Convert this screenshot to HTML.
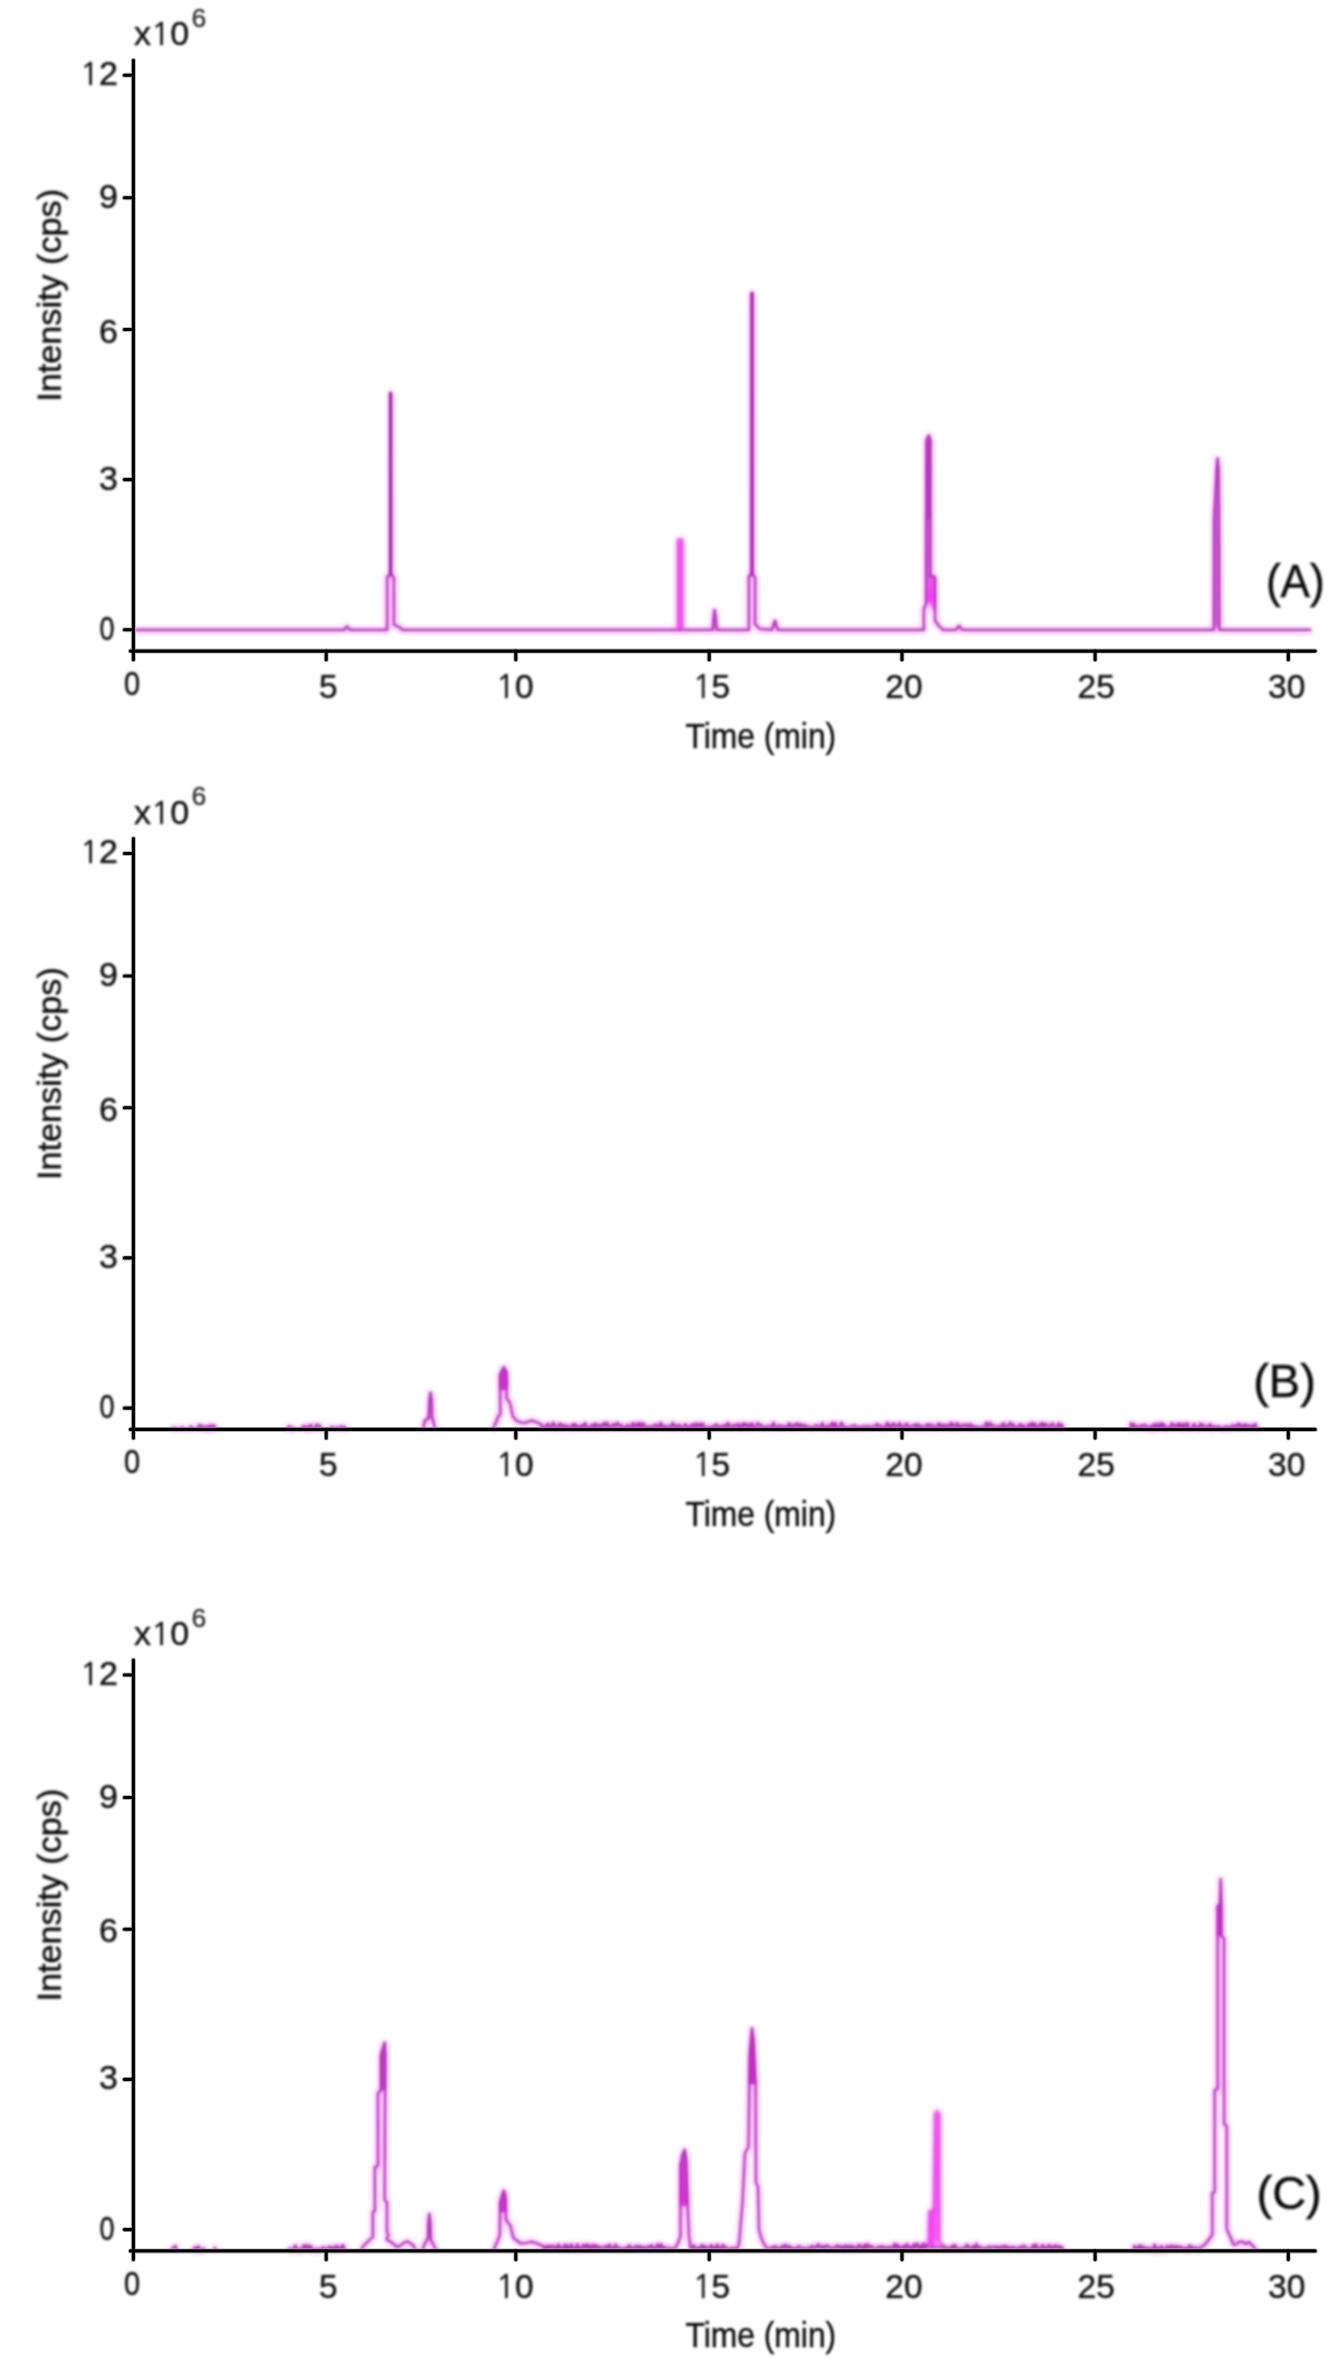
<!DOCTYPE html>
<html><head><meta charset="utf-8"><title>Chromatograms</title>
<style>html,body{margin:0;padding:0;background:#fff;} svg{display:block;}</style>
</head><body>
<svg width="1342" height="2363" viewBox="0 0 1342 2363"><defs><filter id="soft" x="-1%" y="-1%" width="102%" height="102%"><feGaussianBlur stdDeviation="0.55"/></filter><filter id="txt" filterUnits="userSpaceOnUse" x="0" y="0" width="1342" height="2363"><feGaussianBlur stdDeviation="0.8"/></filter><filter id="core" x="-2%" y="-2%" width="104%" height="104%"><feGaussianBlur stdDeviation="1.0"/></filter><filter id="halo" x="-5%" y="-5%" width="110%" height="110%"><feGaussianBlur stdDeviation="2.5"/></filter></defs><rect width="1342" height="2363" fill="#fff"/><g style="mix-blend-mode:multiply" filter="url(#halo)"><g fill="#ff48ff" stroke="none"><path d="M678.1,539.6 H682.2 V628.5 H678.1 Z"/><path d="M926.2,604 L926.6,440 L928.7,435.3 L930.4,440 L930.4,520 L926.4,520 Z"/><path d="M927.4,520 L929.4,520 L929.4,576.5 L927.4,598 Z"/><path d="M926.2,604 L930.4,576.5 L935.0,576.9 L935.0,616 L930,602 Z"/><path d="M1215.6,626 L1215.8,520 L1217.1,470 L1217.6,461 L1218.1,470 L1218.1,520 L1218.2,626 Z"/><path d="M500,1375 L503.8,1367 L506.5,1372 L506.9,1390 L500.2,1390 Z"/><path d="M500.2,2202.4 L503.8,2190.3 L505.5,2196 L506,2212 L500.2,2212 Z"/><path d="M935.3,2242 L935.3,2114 L937.2,2111 L939.2,2114 L939.2,2242 Z"/><path d="M929.5,2246 L929.5,2211 L934.5,2211 L934.5,2246 Z"/><path d="M680.5,2206 L680.5,2166 L682.5,2155 L684.7,2149.5 L686.2,2160 L687.7,2206 Z"/><path d="M381,2055 L384.7,2042.3 L385.3,2055 L385.2,2090 L381,2090 Z"/><path d="M752,2028 L753.5,2040 L755.6,2084 L749.6,2084 L749.7,2055 Z"/><path d="M1217.7,1906 L1220,1904 L1221.4,1904 L1221.6,1936 L1217.7,1936 Z"/></g><path d="M135.0,629.9 L344.0,629.9 L347.0,626.5 L350.0,629.9 L387.2,629.9 L387.2,577.0 L390.6,574.5 L390.6,392.5 L390.8,574.5 L393.9,577.0 L393.9,624.8 L399.8,627.3 L402.0,629.9 L712.8,629.9 L713.9,616.0 L714.6,609.5 L715.4,616.0 L716.6,629.9 L748.9,629.9 L748.9,576.0 L752.0,574.0 L752.0,292.5 L752.2,574.0 L755.1,577.3 L755.1,624.0 L759.6,629.0 L772.0,629.9 L775.0,620.5 L777.5,629.9 L923.9,629.9 L923.9,609.0 L926.2,604.0 L926.6,440.0 L928.7,435.3 L930.4,440.0 L930.4,576.5 L935.0,576.9 L935.0,620.5 L939.2,626.3 L943.0,629.9 L956.0,629.9 L959.2,625.8 L962.0,629.9 L1214.0,629.9 L1214.3,520.0 L1216.8,468.0 L1217.6,458.0 L1218.6,470.0 L1218.9,520.0 L1219.2,629.9 L1311.4,629.9" fill="none" stroke="#ff48ff" stroke-width="3" stroke-linejoin="round"/><path d="M136.0,1429.4 M172.0,1429.4 M172.0,1429.4 L173.3,1428.0 L174.9,1429.4 L176.1,1428.0 L177.6,1429.4 M178.8,1429.4 M180.7,1429.4 L182.1,1427.0 L183.7,1429.4 M185.8,1429.4 M187.7,1429.4 M189.0,1429.4 L190.4,1426.6 L192.1,1427.6 L193.7,1429.4 M194.9,1429.4 M196.7,1429.4 L198.1,1427.5 L199.5,1424.8 L200.9,1427.5 L202.8,1426.2 L204.9,1429.4 L206.4,1426.7 L208.0,1429.4 L209.8,1425.3 L211.7,1429.4 L213.5,1425.2 L215.1,1427.0 L216.0,1429.4 M288.0,1429.4 L288.0,1427.0 L289.8,1426.7 L291.7,1429.4 L293.2,1428.0 L294.8,1429.4 M296.0,1429.4 M297.8,1429.4 M299.2,1429.4 M301.2,1429.4 L302.7,1426.8 L304.6,1426.1 L306.1,1429.4 L308.1,1426.6 L309.4,1429.4 L310.7,1424.8 L312.1,1429.4 M313.6,1429.4 L315.3,1427.1 L316.9,1424.5 L318.1,1427.0 L320.0,1425.6 L321.5,1429.4 M323.3,1429.4 M324.5,1429.4 M325.7,1429.4 M326.9,1429.4 M328.2,1429.4 M329.6,1429.4 L331.6,1426.6 L333.0,1429.4 M334.4,1429.4 L336.4,1427.4 L338.0,1429.4 M339.2,1429.4 L340.5,1426.5 L341.7,1427.3 L342.9,1427.1 L344.6,1426.9 L346.0,1429.4 M423.0,1429.4 L423.5,1428.4 L424.5,1421.0 L428.8,1418.0 L429.5,1400.0 L430.5,1392.3 L431.5,1400.0 L432.0,1418.0 L433.4,1421.0 L434.5,1427.4 L436.0,1429.4 M493.0,1429.4 L493.9,1427.7 L498.4,1416.1 L500.4,1414.8 L500.0,1375.0 L503.8,1367.0 L506.5,1372.0 L506.9,1380.4 L506.5,1398.2 L510.0,1402.7 L512.7,1416.1 L516.3,1420.6 L521.0,1422.5 L525.2,1422.8 L528.5,1421.5 L531.9,1420.6 L536.0,1422.0 L540.9,1424.2 L541.0,1425.5 L542.3,1427.2 L544.1,1426.1 L546.0,1426.7 L547.9,1423.7 L549.3,1427.5 L550.4,1425.9 L551.8,1426.5 L553.3,1422.5 L555.4,1427.7 L556.7,1426.2 L558.4,1426.7 L560.0,1423.4 L561.2,1426.6 L563.1,1424.9 L564.4,1427.5 L566.3,1425.3 L567.8,1426.9 L569.1,1426.5 L571.0,1427.8 L573.0,1424.1 L574.4,1427.9 L575.6,1424.1 L577.2,1427.4 L579.1,1426.2 L580.5,1427.7 L582.2,1425.2 L583.4,1427.5 L585.0,1422.9 L586.5,1427.3 L588.1,1427.1 L589.7,1428.1 L591.6,1425.0 L593.4,1427.5 L595.0,1423.5 L596.2,1427.7 L597.6,1424.8 L599.3,1426.6 L600.8,1424.8 L602.4,1427.3 L604.1,1422.8 L605.9,1426.5 L607.2,1422.7 L609.1,1427.9 L610.7,1426.1 L611.9,1426.8 L613.9,1423.8 L615.6,1426.6 L617.7,1422.7 L619.2,1426.4 L621.1,1425.2 L622.7,1427.8 L624.1,1427.1 L625.8,1428.1 L627.2,1424.8 L628.4,1426.8 L630.5,1425.9 L631.6,1427.6 L632.9,1422.9 L634.8,1427.8 L636.8,1423.9 L638.0,1426.9 L639.5,1422.8 L641.2,1427.9 L643.2,1423.1 L644.7,1427.2 L646.7,1426.6 L648.4,1427.9 L649.6,1426.2 L651.1,1426.8 L652.5,1426.4 L653.9,1427.7 L655.0,1424.6 L656.3,1426.5 L657.6,1425.2 L659.2,1427.4 L660.8,1422.6 L662.2,1426.9 L663.9,1425.6 L665.1,1428.0 L666.9,1426.4 L668.1,1426.6 L669.9,1426.1 L671.3,1427.8 L672.9,1422.7 L674.9,1427.7 L677.0,1425.5 L678.1,1427.3 L679.7,1424.8 L680.8,1427.9 L682.3,1427.1 L683.7,1427.1 L685.4,1424.1 L687.2,1427.4 L688.6,1426.5 L690.4,1428.0 L692.3,1424.2 L694.2,1427.8 L695.8,1423.3 L697.7,1427.1 L699.6,1423.9 L701.0,1427.9 L702.5,1423.3 L704.1,1427.0 L705.9,1427.2 L707.8,1427.2 L709.4,1426.9 L711.2,1428.0 L712.6,1426.2 L714.4,1427.3 L715.9,1424.0 L717.8,1427.0 L719.0,1426.0 L720.8,1427.1 L721.9,1425.9 L723.7,1427.0 L725.1,1425.0 L726.7,1426.6 L728.0,1422.8 L729.1,1426.7 L731.2,1425.9 L732.5,1427.7 L734.2,1424.7 L736.2,1426.7 L737.8,1423.9 L739.2,1427.3 L740.3,1424.9 L741.9,1427.8 L743.3,1423.2 L744.4,1426.7 L745.7,1423.8 L747.6,1427.5 L749.1,1424.4 L750.6,1427.6 L751.8,1423.3 L753.2,1427.7 L754.5,1426.3 L756.0,1426.6 L757.9,1422.9 L759.9,1426.9 L761.1,1425.1 L763.0,1427.6 L764.1,1426.6 L765.7,1427.6 L767.5,1426.0 L769.3,1427.2 L770.8,1426.4 L772.1,1427.3 L773.4,1422.5 L775.0,1427.8 L776.2,1426.8 L777.5,1427.1 L779.5,1425.2 L781.0,1427.5 L782.5,1425.9 L784.5,1427.2 L786.2,1426.2 L787.6,1427.4 L789.2,1423.2 L791.1,1428.0 L792.9,1425.0 L794.6,1427.4 L796.6,1423.2 L798.7,1427.9 L799.9,1424.0 L802.0,1427.0 L803.8,1424.6 L805.0,1427.7 L807.0,1425.8 L808.2,1427.0 L810.0,1426.9 L811.6,1427.4 L813.0,1427.2 L814.4,1426.5 L816.1,1425.0 L817.5,1426.5 L819.3,1427.1 L820.9,1427.4 L822.2,1422.8 L823.6,1427.5 L825.1,1426.3 L827.0,1427.2 L828.3,1425.7 L830.2,1427.7 L832.0,1422.7 L833.6,1427.7 L835.2,1422.7 L836.4,1427.7 L838.5,1427.0 L839.7,1426.6 L841.6,1422.5 L843.6,1427.8 L845.7,1427.0 L847.4,1427.5 L848.9,1427.2 L850.2,1426.5 L851.5,1426.2 L852.9,1426.7 L854.5,1425.0 L856.0,1427.8 L857.4,1427.1 L858.9,1426.8 L860.1,1426.9 L862.1,1426.8 L864.1,1425.9 L866.1,1427.6 L867.9,1425.9 L869.1,1426.6 L870.8,1427.1 L872.1,1426.5 L874.2,1426.0 L875.7,1426.5 L877.0,1423.7 L878.9,1427.1 L880.3,1425.5 L882.2,1427.8 L884.1,1426.9 L885.2,1427.5 L887.3,1422.5 L888.6,1427.9 L890.2,1425.1 L891.6,1427.1 L893.4,1423.2 L895.1,1426.7 L896.5,1425.4 L898.3,1427.7 L899.7,1423.0 L901.4,1427.4 L903.4,1426.1 L905.3,1426.4 L906.6,1423.3 L908.5,1428.0 L909.9,1426.3 L911.9,1426.5 L913.4,1425.1 L914.8,1426.5 L916.0,1424.3 L917.3,1427.8 L918.7,1424.4 L920.4,1428.1 L921.8,1426.3 L923.3,1426.8 L924.9,1426.7 L926.4,1427.0 L927.6,1423.9 L929.1,1427.6 L931.2,1424.5 L932.6,1426.7 L934.7,1426.3 L936.5,1428.1 L938.5,1423.3 L940.0,1427.3 L941.3,1424.6 L943.0,1427.9 L944.7,1424.8 L946.0,1427.2 L948.0,1424.9 L949.9,1427.8 L951.1,1422.6 L952.7,1426.5 L954.2,1424.3 L956.1,1426.8 L957.5,1423.2 L959.4,1427.7 L960.9,1425.4 L962.1,1426.9 L964.1,1424.5 L965.9,1426.7 L967.2,1424.6 L968.9,1427.4 L970.6,1424.1 L972.1,1428.0 L973.8,1426.1 L975.7,1427.3 L977.0,1426.7 L978.2,1427.9 L979.8,1427.0 L981.5,1426.9 L983.4,1426.9 L985.0,1426.5 L986.2,1422.5 L988.1,1427.8 L990.1,1422.7 L992.1,1426.8 L994.1,1425.5 L996.0,1426.6 L997.4,1426.5 L999.0,1427.7 L1000.3,1425.7 L1001.5,1427.8 L1003.5,1423.0 L1004.8,1427.9 L1006.4,1425.5 L1008.4,1427.1 L1010.3,1422.5 L1012.1,1426.8 L1013.4,1424.5 L1014.9,1427.3 L1016.2,1427.0 L1018.1,1427.0 L1020.2,1424.1 L1021.6,1428.0 L1022.9,1425.2 L1024.5,1427.9 L1025.8,1427.1 L1026.9,1427.9 L1028.4,1424.4 L1030.1,1427.0 L1031.7,1422.8 L1033.0,1427.9 L1034.7,1423.5 L1036.2,1428.1 L1038.0,1425.5 L1039.7,1426.5 L1041.5,1422.9 L1042.7,1427.4 L1044.1,1423.5 L1045.2,1426.5 L1046.4,1424.3 L1048.1,1426.7 L1049.3,1425.8 L1050.5,1426.8 L1052.3,1423.2 L1054.1,1426.9 L1055.7,1426.7 L1057.0,1427.5 L1058.9,1423.2 L1060.7,1427.2 L1062.2,1424.7 L1063.0,1429.4 M1131.0,1429.4 L1131.0,1423.0 L1132.3,1428.1 L1133.7,1424.0 L1135.7,1427.6 L1137.7,1426.2 L1139.7,1427.0 L1141.4,1425.2 L1143.4,1426.8 L1144.9,1424.7 L1146.3,1427.1 L1147.5,1426.6 L1148.7,1429.4 L1150.7,1426.6 L1151.8,1429.4 L1153.6,1424.2 L1155.4,1429.4 L1157.1,1423.7 L1159.0,1428.0 L1161.0,1423.1 L1162.2,1427.9 L1163.4,1423.7 L1165.1,1427.1 L1166.5,1429.4 L1167.7,1427.8 L1169.1,1427.1 L1170.5,1427.0 L1172.0,1423.0 L1173.6,1427.1 L1174.7,1425.3 L1176.6,1427.0 L1178.2,1423.5 L1179.4,1427.8 L1180.5,1423.9 L1182.6,1429.4 L1184.2,1423.8 L1185.5,1427.6 L1187.4,1423.1 L1188.8,1427.0 L1190.4,1429.4 M1192.1,1429.4 L1194.0,1423.8 L1195.7,1427.5 L1197.2,1426.8 L1199.2,1429.4 L1200.5,1423.3 L1202.1,1426.7 L1203.5,1424.9 L1205.3,1427.1 L1206.8,1426.5 L1208.7,1427.0 L1210.0,1423.9 L1211.6,1429.4 L1213.2,1426.2 L1214.5,1427.0 L1216.4,1426.5 L1217.8,1427.3 L1219.1,1426.4 L1221.1,1427.9 L1223.2,1429.4 L1224.7,1426.9 L1226.5,1426.4 L1228.2,1429.4 L1229.5,1427.1 L1231.0,1427.0 L1232.6,1425.2 L1233.9,1427.5 L1235.7,1425.3 L1237.4,1427.4 L1238.7,1423.4 L1240.6,1426.8 L1242.4,1425.2 L1243.8,1427.9 L1245.3,1424.1 L1247.0,1427.4 L1248.6,1425.4 L1250.4,1427.8 L1252.1,1425.5 L1253.7,1428.0 L1255.4,1423.8 L1257.0,1429.4 M1312.0,1429.4" fill="none" stroke="#ff48ff" stroke-width="3" stroke-linejoin="round"/><path d="M136.0,2250.9 M172.0,2250.9 L172.0,2248.4 L173.7,2248.7 L175.3,2245.9 L176.9,2250.9 M178.9,2250.9 M180.7,2250.9 M182.6,2250.9 M184.6,2250.9 M185.8,2250.9 M187.3,2250.9 M188.8,2250.9 M190.6,2250.9 M192.0,2250.9 L193.8,2249.0 L195.2,2247.4 L196.5,2250.9 L198.3,2246.6 L199.9,2249.3 L202.0,2250.9 L203.7,2248.6 L205.3,2250.9 M206.9,2250.9 M208.8,2250.9 M210.8,2250.9 M212.2,2250.9 M213.8,2250.9 L214.9,2247.8 L216.0,2250.9 M288.0,2250.9 M288.0,2250.9 L289.6,2248.7 L291.3,2250.9 L293.3,2249.5 L295.3,2245.5 L296.5,2248.7 L297.6,2250.9 L299.7,2249.2 L300.9,2250.9 L302.2,2249.1 L303.5,2245.5 L304.8,2248.7 L306.7,2245.1 L308.5,2249.3 L310.3,2245.7 L311.9,2248.8 L313.2,2250.9 L314.5,2249.5 L316.1,2250.9 L317.7,2248.8 L319.6,2250.9 L321.5,2248.8 L323.3,2247.2 L324.8,2249.5 L326.5,2248.6 L328.2,2248.3 L329.7,2246.6 L331.3,2249.5 L333.1,2247.3 L335.0,2250.9 L336.6,2245.6 L337.9,2249.0 L339.6,2247.5 L341.5,2248.9 L342.9,2244.8 L344.6,2249.1 L346.0,2250.9 M361.0,2250.9 L363.2,2246.0 L372.9,2237.0 L372.9,2212.0 L374.9,2211.0 L374.9,2167.0 L378.0,2166.0 L378.0,2093.0 L381.0,2090.0 L381.0,2055.0 L384.7,2042.3 L385.3,2055.0 L384.6,2200.0 L387.0,2202.0 L387.0,2232.0 L388.5,2235.0 L386.5,2239.4 L392.8,2243.3 L397.0,2247.0 L400.0,2246.0 L403.4,2243.0 L407.0,2241.5 L410.0,2243.0 L413.0,2245.0 L416.0,2250.9 M422.0,2250.9 L423.6,2247.0 L425.5,2242.0 L428.2,2238.0 L428.5,2222.0 L429.3,2213.6 L430.3,2222.0 L430.8,2240.0 L432.5,2243.0 L434.5,2247.0 L437.0,2250.9 M493.0,2250.9 L493.9,2249.5 L499.8,2235.4 L500.2,2202.4 L503.8,2190.3 L505.5,2196.0 L506.0,2220.0 L510.0,2224.7 L513.6,2238.1 L520.8,2243.5 L526.0,2243.0 L531.9,2241.7 L537.0,2243.5 L543.0,2246.0 L543.0,2245.9 L544.7,2249.5 L546.5,2246.1 L547.7,2249.6 L549.0,2245.8 L550.8,2248.1 L552.5,2245.7 L554.3,2248.5 L555.6,2246.5 L557.4,2249.3 L558.6,2244.4 L560.3,2248.2 L562.2,2247.5 L563.6,2249.1 L565.2,2244.3 L566.3,2249.5 L567.6,2246.0 L569.6,2249.6 L571.1,2244.3 L573.1,2248.9 L574.3,2247.7 L575.6,2249.6 L577.4,2244.1 L578.6,2249.4 L579.7,2247.6 L581.5,2249.5 L583.4,2244.7 L585.2,2248.5 L587.0,2244.3 L588.4,2248.4 L589.5,2245.6 L591.4,2249.1 L593.3,2244.6 L594.8,2249.0 L596.5,2245.5 L597.8,2249.0 L599.5,2246.7 L601.0,2248.0 L602.9,2247.3 L604.1,2248.4 L606.0,2245.8 L608.0,2248.6 L609.4,2244.5 L610.9,2248.6 L612.9,2247.4 L614.0,2248.9 L615.7,2244.5 L616.9,2248.2 L618.8,2247.4 L620.8,2248.4 L622.8,2248.3 L624.4,2249.2 L626.2,2247.6 L627.9,2248.8 L629.3,2245.2 L631.1,2249.4 L633.0,2247.6 L634.7,2248.1 L636.3,2245.9 L637.6,2249.3 L639.4,2246.0 L640.9,2249.3 L642.1,2246.9 L643.3,2248.3 L644.6,2247.1 L646.2,2249.5 L648.3,2246.4 L649.9,2248.3 L651.5,2245.1 L653.4,2249.2 L654.5,2247.8 L655.7,2248.7 L657.7,2244.2 L659.7,2248.6 L661.2,2244.2 L662.6,2248.5 L664.6,2246.8 L666.1,2248.0 L668.2,2248.5 L669.6,2248.1 L671.6,2248.5 L673.4,2248.5 L675.8,2247.5 L678.5,2242.0 L680.5,2236.0 L680.5,2166.0 L682.5,2155.0 L684.7,2149.5 L686.2,2160.0 L687.7,2206.0 L689.0,2236.0 L690.5,2247.0 L690.5,2248.1 L692.3,2248.6 L693.8,2245.4 L695.0,2249.2 L696.2,2248.0 L697.6,2248.6 L698.7,2247.9 L699.8,2249.2 L701.9,2244.9 L703.1,2249.4 L705.1,2246.0 L706.7,2248.3 L708.3,2248.1 L709.6,2248.5 L711.2,2244.9 L712.6,2249.3 L714.0,2247.3 L715.3,2249.1 L717.3,2244.5 L718.4,2248.6 L719.8,2247.5 L721.1,2249.0 L723.2,2244.7 L724.4,2248.2 L725.6,2247.4 L727.7,2248.4 L729.1,2248.7 L731.0,2249.3 L732.6,2247.8 L734.2,2249.3 L736.1,2247.9 L737.3,2248.7 L739.0,2244.0 L742.5,2203.0 L745.0,2153.0 L748.5,2147.0 L749.7,2055.0 L752.0,2028.0 L753.5,2040.0 L755.6,2084.0 L756.0,2183.0 L758.0,2186.0 L759.0,2230.0 L762.0,2240.0 L766.0,2247.5 L766.0,2247.6 L767.7,2248.0 L769.4,2248.3 L771.2,2248.2 L772.4,2246.9 L774.3,2248.6 L775.4,2246.1 L777.4,2249.2 L779.3,2247.8 L780.8,2249.6 L782.4,2245.9 L783.7,2248.0 L785.6,2244.9 L787.1,2249.5 L789.0,2246.0 L790.7,2248.6 L791.8,2247.5 L793.1,2249.1 L795.0,2248.2 L796.8,2249.5 L798.5,2245.9 L800.3,2247.9 L802.1,2248.0 L803.7,2249.1 L804.9,2248.0 L806.6,2249.3 L808.3,2247.8 L810.2,2248.8 L811.7,2245.9 L813.2,2248.1 L814.7,2246.9 L816.2,2248.1 L818.2,2244.1 L819.4,2247.8 L821.4,2246.4 L823.1,2248.6 L824.3,2246.0 L825.4,2247.7 L827.3,2245.3 L829.2,2247.9 L830.4,2247.3 L832.1,2248.6 L834.1,2247.3 L835.8,2247.8 L837.1,2245.2 L838.4,2247.8 L840.0,2246.2 L841.6,2249.3 L842.9,2246.5 L844.3,2249.4 L845.9,2245.4 L847.6,2249.2 L849.4,2245.7 L851.1,2249.0 L852.4,2245.9 L853.9,2249.6 L855.4,2247.4 L857.0,2249.0 L859.1,2244.5 L860.4,2247.9 L861.9,2246.6 L863.5,2249.4 L864.8,2244.7 L866.1,2248.9 L867.8,2244.1 L869.8,2248.2 L871.6,2246.1 L873.5,2247.9 L874.7,2248.7 L876.6,2248.6 L878.6,2246.4 L880.5,2248.4 L882.0,2246.2 L883.8,2248.8 L885.4,2247.0 L887.3,2248.6 L888.8,2247.1 L890.1,2248.5 L891.3,2247.0 L893.2,2247.8 L894.6,2243.8 L895.7,2248.5 L897.3,2244.5 L898.9,2248.6 L900.5,2246.6 L902.0,2248.9 L904.0,2245.9 L905.2,2248.8 L906.9,2243.9 L909.0,2248.7 L910.7,2246.8 L912.3,2249.3 L913.7,2244.2 L915.3,2247.9 L917.1,2243.4 L919.1,2249.3 L920.5,2246.0 L921.8,2248.4 L923.5,2243.3 L925.2,2248.8 L927.1,2245.0 L928.7,2247.0 L942.5,2247.0 L942.5,2244.4 L944.2,2249.2 L945.8,2247.3 L947.5,2247.8 L949.2,2248.1 L950.5,2249.4 L951.7,2246.0 L953.6,2248.1 L954.8,2244.7 L956.2,2248.9 L957.5,2248.2 L959.5,2249.0 L961.0,2248.4 L963.0,2247.9 L964.5,2247.4 L965.7,2248.0 L967.1,2244.5 L968.5,2247.9 L970.1,2247.5 L971.6,2249.2 L973.0,2246.2 L974.9,2249.3 L976.4,2243.7 L977.8,2249.4 L979.4,2246.6 L980.6,2248.1 L982.1,2247.7 L983.5,2249.5 L985.2,2247.9 L987.0,2249.1 L988.9,2246.4 L990.8,2249.3 L992.3,2246.8 L994.3,2247.9 L996.0,2246.4 L997.2,2249.1 L999.2,2246.8 L1000.5,2249.2 L1002.5,2246.1 L1004.1,2248.2 L1005.6,2245.8 L1007.0,2249.4 L1008.3,2247.1 L1010.1,2248.6 L1011.6,2247.2 L1012.7,2249.2 L1014.0,2247.3 L1015.5,2248.2 L1017.5,2248.0 L1018.8,2248.4 L1020.6,2246.6 L1022.4,2249.1 L1024.3,2245.5 L1025.6,2247.9 L1027.4,2248.5 L1028.6,2249.2 L1030.0,2248.5 L1031.4,2249.3 L1033.3,2245.0 L1034.7,2248.4 L1036.1,2244.4 L1038.0,2249.5 L1039.9,2248.5 L1041.3,2248.2 L1042.6,2244.9 L1043.8,2248.9 L1045.7,2247.3 L1046.9,2248.8 L1048.9,2244.9 L1050.8,2248.8 L1052.0,2246.5 L1053.6,2249.4 L1055.4,2245.1 L1057.3,2248.6 L1059.4,2245.9 L1060.7,2248.9 L1062.3,2247.1 L1063.0,2250.9 M1134.0,2250.9 L1134.0,2245.8 L1135.3,2248.8 L1136.9,2247.2 L1138.3,2249.4 L1140.0,2245.2 L1141.6,2249.3 L1143.4,2246.7 L1145.2,2249.4 L1146.6,2247.8 L1147.8,2249.3 L1149.6,2248.2 L1151.0,2249.0 L1152.3,2250.9 L1153.4,2248.4 L1154.6,2244.5 L1156.3,2250.9 L1157.9,2247.9 L1159.5,2250.9 L1161.5,2246.0 L1163.6,2249.2 L1164.9,2250.9 L1166.1,2248.3 L1167.5,2245.9 L1169.4,2249.3 L1171.3,2245.5 L1172.7,2248.3 L1174.1,2246.3 L1175.6,2249.2 L1176.8,2246.0 L1178.7,2248.2 L1180.7,2246.5 L1182.0,2248.7 L1183.2,2248.0 L1184.7,2249.4 L1185.9,2247.9 L1187.7,2250.9 L1189.6,2245.3 L1191.1,2248.6 L1192.7,2247.2 L1194.3,2248.3 L1196.3,2247.4 L1197.8,2249.1 L1199.1,2250.9 L1200.5,2247.5 L1204.6,2245.0 L1212.3,2235.0 L1212.3,2193.0 L1214.7,2192.0 L1214.7,2090.0 L1217.7,2089.0 L1217.7,1906.0 L1220.0,1904.0 L1220.7,1879.0 L1221.4,1904.0 L1221.6,1936.0 L1224.1,1938.0 L1224.1,2124.0 L1226.8,2126.0 L1226.8,2229.0 L1230.4,2237.0 L1233.6,2245.0 L1236.6,2244.0 L1239.0,2242.0 L1242.0,2241.5 L1246.0,2244.0 L1249.0,2242.0 L1252.0,2245.0 L1254.5,2248.0 L1257.0,2250.9 M1312.0,2250.9" fill="none" stroke="#ff48ff" stroke-width="3" stroke-linejoin="round"/><path d="M676.5,629.9 L678.1,628.0 L678.1,539.6 L682.2,539.6 L682.2,628.0 L683.8,629.9" fill="none" stroke="#ff48ff" stroke-width="3" stroke-linejoin="round"/><path d="M928.7,2247.0 L929.5,2211.0 L934.0,2211.0 L935.3,2114.0 L937.2,2111.0 L939.2,2114.0 L939.2,2242.0 L942.5,2247.0" fill="none" stroke="#ff48ff" stroke-width="3" stroke-linejoin="round"/><g stroke="#ff48ff" stroke-width="3.4" fill="none"><path d="M390.6,574 V393.5"/><path d="M752,574 V293.5"/></g></g><g style="mix-blend-mode:multiply" filter="url(#core)"><g stroke="none"><path d="M678.1,539.6 H682.2 V628.5 H678.1 Z" fill="#f5e6f5"/><path d="M926.2,604 L926.6,440 L928.7,435.3 L930.4,440 L930.4,520 L926.4,520 Z" fill="#b4adb9"/><path d="M926.4,520 L930.4,520 L930.4,576.5 L926.2,604 Z" fill="#d7f5dc"/><path d="M926.2,604 L930.4,576.5 L935.0,576.9 L935.0,616 L930,602 Z" fill="#f5c8f5"/><path d="M1214.0,628 L1214.3,520 L1216.8,468 L1217.6,458 L1218.6,470 L1218.9,520 L1219.2,628 Z" fill="#d2f0d6"/><path d="M500,1375 L503.8,1367 L506.5,1372 L506.9,1390 L500.2,1390 Z" fill="#d28cd2"/><path d="M500.2,2202.4 L503.8,2190.3 L505.5,2196 L506,2212 L500.2,2212 Z" fill="#d28cd2"/><path d="M935.3,2242 L935.3,2114 L937.2,2111 L939.2,2114 L939.2,2242 Z" fill="#f5e6f5"/><path d="M929.5,2246 L929.5,2211 L934.5,2211 L934.5,2246 Z" fill="#f5c3f5"/><path d="M680.5,2206 L680.5,2166 L682.5,2155 L684.7,2149.5 L686.2,2160 L687.7,2206 Z" fill="#dc97dc"/><path d="M381,2055 L384.7,2042.3 L385.3,2055 L385.2,2090 L381,2090 Z" fill="#c3a2c3"/><path d="M752,2028 L753.5,2040 L755.6,2084 L749.6,2084 L749.7,2055 Z" fill="#c882c8"/><path d="M1217.7,1906 L1220,1904 L1221.4,1904 L1221.6,1936 L1217.7,1936 Z" fill="#e157d7"/></g><path d="M135.0,629.9 L344.0,629.9 L347.0,626.5 L350.0,629.9 L387.2,629.9 L387.2,577.0 L390.6,574.5 L390.6,392.5 L390.8,574.5 L393.9,577.0 L393.9,624.8 L399.8,627.3 L402.0,629.9 L712.8,629.9 L713.9,616.0 L714.6,609.5 L715.4,616.0 L716.6,629.9 L748.9,629.9 L748.9,576.0 L752.0,574.0 L752.0,292.5 L752.2,574.0 L755.1,577.3 L755.1,624.0 L759.6,629.0 L772.0,629.9 L775.0,620.5 L777.5,629.9 L923.9,629.9 L923.9,609.0 L926.2,604.0 L926.6,440.0 L928.7,435.3 L930.4,440.0 L930.4,576.5 L935.0,576.9 L935.0,620.5 L939.2,626.3 L943.0,629.9 L956.0,629.9 L959.2,625.8 L962.0,629.9 L1214.0,629.9 L1214.3,520.0 L1216.8,468.0 L1217.6,458.0 L1218.6,470.0 L1218.9,520.0 L1219.2,629.9 L1311.4,629.9" fill="none" stroke="#a984ae" stroke-width="2.2" stroke-linejoin="round"/><path d="M136.0,1429.4 M172.0,1429.4 M172.0,1429.4 L173.3,1428.0 L174.9,1429.4 L176.1,1428.0 L177.6,1429.4 M178.8,1429.4 M180.7,1429.4 L182.1,1427.0 L183.7,1429.4 M185.8,1429.4 M187.7,1429.4 M189.0,1429.4 L190.4,1426.6 L192.1,1427.6 L193.7,1429.4 M194.9,1429.4 M196.7,1429.4 L198.1,1427.5 L199.5,1424.8 L200.9,1427.5 L202.8,1426.2 L204.9,1429.4 L206.4,1426.7 L208.0,1429.4 L209.8,1425.3 L211.7,1429.4 L213.5,1425.2 L215.1,1427.0 L216.0,1429.4 M288.0,1429.4 L288.0,1427.0 L289.8,1426.7 L291.7,1429.4 L293.2,1428.0 L294.8,1429.4 M296.0,1429.4 M297.8,1429.4 M299.2,1429.4 M301.2,1429.4 L302.7,1426.8 L304.6,1426.1 L306.1,1429.4 L308.1,1426.6 L309.4,1429.4 L310.7,1424.8 L312.1,1429.4 M313.6,1429.4 L315.3,1427.1 L316.9,1424.5 L318.1,1427.0 L320.0,1425.6 L321.5,1429.4 M323.3,1429.4 M324.5,1429.4 M325.7,1429.4 M326.9,1429.4 M328.2,1429.4 M329.6,1429.4 L331.6,1426.6 L333.0,1429.4 M334.4,1429.4 L336.4,1427.4 L338.0,1429.4 M339.2,1429.4 L340.5,1426.5 L341.7,1427.3 L342.9,1427.1 L344.6,1426.9 L346.0,1429.4 M423.0,1429.4 L423.5,1428.4 L424.5,1421.0 L428.8,1418.0 L429.5,1400.0 L430.5,1392.3 L431.5,1400.0 L432.0,1418.0 L433.4,1421.0 L434.5,1427.4 L436.0,1429.4 M493.0,1429.4 L493.9,1427.7 L498.4,1416.1 L500.4,1414.8 L500.0,1375.0 L503.8,1367.0 L506.5,1372.0 L506.9,1380.4 L506.5,1398.2 L510.0,1402.7 L512.7,1416.1 L516.3,1420.6 L521.0,1422.5 L525.2,1422.8 L528.5,1421.5 L531.9,1420.6 L536.0,1422.0 L540.9,1424.2 L541.0,1425.5 L542.3,1427.2 L544.1,1426.1 L546.0,1426.7 L547.9,1423.7 L549.3,1427.5 L550.4,1425.9 L551.8,1426.5 L553.3,1422.5 L555.4,1427.7 L556.7,1426.2 L558.4,1426.7 L560.0,1423.4 L561.2,1426.6 L563.1,1424.9 L564.4,1427.5 L566.3,1425.3 L567.8,1426.9 L569.1,1426.5 L571.0,1427.8 L573.0,1424.1 L574.4,1427.9 L575.6,1424.1 L577.2,1427.4 L579.1,1426.2 L580.5,1427.7 L582.2,1425.2 L583.4,1427.5 L585.0,1422.9 L586.5,1427.3 L588.1,1427.1 L589.7,1428.1 L591.6,1425.0 L593.4,1427.5 L595.0,1423.5 L596.2,1427.7 L597.6,1424.8 L599.3,1426.6 L600.8,1424.8 L602.4,1427.3 L604.1,1422.8 L605.9,1426.5 L607.2,1422.7 L609.1,1427.9 L610.7,1426.1 L611.9,1426.8 L613.9,1423.8 L615.6,1426.6 L617.7,1422.7 L619.2,1426.4 L621.1,1425.2 L622.7,1427.8 L624.1,1427.1 L625.8,1428.1 L627.2,1424.8 L628.4,1426.8 L630.5,1425.9 L631.6,1427.6 L632.9,1422.9 L634.8,1427.8 L636.8,1423.9 L638.0,1426.9 L639.5,1422.8 L641.2,1427.9 L643.2,1423.1 L644.7,1427.2 L646.7,1426.6 L648.4,1427.9 L649.6,1426.2 L651.1,1426.8 L652.5,1426.4 L653.9,1427.7 L655.0,1424.6 L656.3,1426.5 L657.6,1425.2 L659.2,1427.4 L660.8,1422.6 L662.2,1426.9 L663.9,1425.6 L665.1,1428.0 L666.9,1426.4 L668.1,1426.6 L669.9,1426.1 L671.3,1427.8 L672.9,1422.7 L674.9,1427.7 L677.0,1425.5 L678.1,1427.3 L679.7,1424.8 L680.8,1427.9 L682.3,1427.1 L683.7,1427.1 L685.4,1424.1 L687.2,1427.4 L688.6,1426.5 L690.4,1428.0 L692.3,1424.2 L694.2,1427.8 L695.8,1423.3 L697.7,1427.1 L699.6,1423.9 L701.0,1427.9 L702.5,1423.3 L704.1,1427.0 L705.9,1427.2 L707.8,1427.2 L709.4,1426.9 L711.2,1428.0 L712.6,1426.2 L714.4,1427.3 L715.9,1424.0 L717.8,1427.0 L719.0,1426.0 L720.8,1427.1 L721.9,1425.9 L723.7,1427.0 L725.1,1425.0 L726.7,1426.6 L728.0,1422.8 L729.1,1426.7 L731.2,1425.9 L732.5,1427.7 L734.2,1424.7 L736.2,1426.7 L737.8,1423.9 L739.2,1427.3 L740.3,1424.9 L741.9,1427.8 L743.3,1423.2 L744.4,1426.7 L745.7,1423.8 L747.6,1427.5 L749.1,1424.4 L750.6,1427.6 L751.8,1423.3 L753.2,1427.7 L754.5,1426.3 L756.0,1426.6 L757.9,1422.9 L759.9,1426.9 L761.1,1425.1 L763.0,1427.6 L764.1,1426.6 L765.7,1427.6 L767.5,1426.0 L769.3,1427.2 L770.8,1426.4 L772.1,1427.3 L773.4,1422.5 L775.0,1427.8 L776.2,1426.8 L777.5,1427.1 L779.5,1425.2 L781.0,1427.5 L782.5,1425.9 L784.5,1427.2 L786.2,1426.2 L787.6,1427.4 L789.2,1423.2 L791.1,1428.0 L792.9,1425.0 L794.6,1427.4 L796.6,1423.2 L798.7,1427.9 L799.9,1424.0 L802.0,1427.0 L803.8,1424.6 L805.0,1427.7 L807.0,1425.8 L808.2,1427.0 L810.0,1426.9 L811.6,1427.4 L813.0,1427.2 L814.4,1426.5 L816.1,1425.0 L817.5,1426.5 L819.3,1427.1 L820.9,1427.4 L822.2,1422.8 L823.6,1427.5 L825.1,1426.3 L827.0,1427.2 L828.3,1425.7 L830.2,1427.7 L832.0,1422.7 L833.6,1427.7 L835.2,1422.7 L836.4,1427.7 L838.5,1427.0 L839.7,1426.6 L841.6,1422.5 L843.6,1427.8 L845.7,1427.0 L847.4,1427.5 L848.9,1427.2 L850.2,1426.5 L851.5,1426.2 L852.9,1426.7 L854.5,1425.0 L856.0,1427.8 L857.4,1427.1 L858.9,1426.8 L860.1,1426.9 L862.1,1426.8 L864.1,1425.9 L866.1,1427.6 L867.9,1425.9 L869.1,1426.6 L870.8,1427.1 L872.1,1426.5 L874.2,1426.0 L875.7,1426.5 L877.0,1423.7 L878.9,1427.1 L880.3,1425.5 L882.2,1427.8 L884.1,1426.9 L885.2,1427.5 L887.3,1422.5 L888.6,1427.9 L890.2,1425.1 L891.6,1427.1 L893.4,1423.2 L895.1,1426.7 L896.5,1425.4 L898.3,1427.7 L899.7,1423.0 L901.4,1427.4 L903.4,1426.1 L905.3,1426.4 L906.6,1423.3 L908.5,1428.0 L909.9,1426.3 L911.9,1426.5 L913.4,1425.1 L914.8,1426.5 L916.0,1424.3 L917.3,1427.8 L918.7,1424.4 L920.4,1428.1 L921.8,1426.3 L923.3,1426.8 L924.9,1426.7 L926.4,1427.0 L927.6,1423.9 L929.1,1427.6 L931.2,1424.5 L932.6,1426.7 L934.7,1426.3 L936.5,1428.1 L938.5,1423.3 L940.0,1427.3 L941.3,1424.6 L943.0,1427.9 L944.7,1424.8 L946.0,1427.2 L948.0,1424.9 L949.9,1427.8 L951.1,1422.6 L952.7,1426.5 L954.2,1424.3 L956.1,1426.8 L957.5,1423.2 L959.4,1427.7 L960.9,1425.4 L962.1,1426.9 L964.1,1424.5 L965.9,1426.7 L967.2,1424.6 L968.9,1427.4 L970.6,1424.1 L972.1,1428.0 L973.8,1426.1 L975.7,1427.3 L977.0,1426.7 L978.2,1427.9 L979.8,1427.0 L981.5,1426.9 L983.4,1426.9 L985.0,1426.5 L986.2,1422.5 L988.1,1427.8 L990.1,1422.7 L992.1,1426.8 L994.1,1425.5 L996.0,1426.6 L997.4,1426.5 L999.0,1427.7 L1000.3,1425.7 L1001.5,1427.8 L1003.5,1423.0 L1004.8,1427.9 L1006.4,1425.5 L1008.4,1427.1 L1010.3,1422.5 L1012.1,1426.8 L1013.4,1424.5 L1014.9,1427.3 L1016.2,1427.0 L1018.1,1427.0 L1020.2,1424.1 L1021.6,1428.0 L1022.9,1425.2 L1024.5,1427.9 L1025.8,1427.1 L1026.9,1427.9 L1028.4,1424.4 L1030.1,1427.0 L1031.7,1422.8 L1033.0,1427.9 L1034.7,1423.5 L1036.2,1428.1 L1038.0,1425.5 L1039.7,1426.5 L1041.5,1422.9 L1042.7,1427.4 L1044.1,1423.5 L1045.2,1426.5 L1046.4,1424.3 L1048.1,1426.7 L1049.3,1425.8 L1050.5,1426.8 L1052.3,1423.2 L1054.1,1426.9 L1055.7,1426.7 L1057.0,1427.5 L1058.9,1423.2 L1060.7,1427.2 L1062.2,1424.7 L1063.0,1429.4 M1131.0,1429.4 L1131.0,1423.0 L1132.3,1428.1 L1133.7,1424.0 L1135.7,1427.6 L1137.7,1426.2 L1139.7,1427.0 L1141.4,1425.2 L1143.4,1426.8 L1144.9,1424.7 L1146.3,1427.1 L1147.5,1426.6 L1148.7,1429.4 L1150.7,1426.6 L1151.8,1429.4 L1153.6,1424.2 L1155.4,1429.4 L1157.1,1423.7 L1159.0,1428.0 L1161.0,1423.1 L1162.2,1427.9 L1163.4,1423.7 L1165.1,1427.1 L1166.5,1429.4 L1167.7,1427.8 L1169.1,1427.1 L1170.5,1427.0 L1172.0,1423.0 L1173.6,1427.1 L1174.7,1425.3 L1176.6,1427.0 L1178.2,1423.5 L1179.4,1427.8 L1180.5,1423.9 L1182.6,1429.4 L1184.2,1423.8 L1185.5,1427.6 L1187.4,1423.1 L1188.8,1427.0 L1190.4,1429.4 M1192.1,1429.4 L1194.0,1423.8 L1195.7,1427.5 L1197.2,1426.8 L1199.2,1429.4 L1200.5,1423.3 L1202.1,1426.7 L1203.5,1424.9 L1205.3,1427.1 L1206.8,1426.5 L1208.7,1427.0 L1210.0,1423.9 L1211.6,1429.4 L1213.2,1426.2 L1214.5,1427.0 L1216.4,1426.5 L1217.8,1427.3 L1219.1,1426.4 L1221.1,1427.9 L1223.2,1429.4 L1224.7,1426.9 L1226.5,1426.4 L1228.2,1429.4 L1229.5,1427.1 L1231.0,1427.0 L1232.6,1425.2 L1233.9,1427.5 L1235.7,1425.3 L1237.4,1427.4 L1238.7,1423.4 L1240.6,1426.8 L1242.4,1425.2 L1243.8,1427.9 L1245.3,1424.1 L1247.0,1427.4 L1248.6,1425.4 L1250.4,1427.8 L1252.1,1425.5 L1253.7,1428.0 L1255.4,1423.8 L1257.0,1429.4 M1312.0,1429.4" fill="none" stroke="#a984ae" stroke-width="2.2" stroke-linejoin="round"/><path d="M136.0,2250.9 M172.0,2250.9 L172.0,2248.4 L173.7,2248.7 L175.3,2245.9 L176.9,2250.9 M178.9,2250.9 M180.7,2250.9 M182.6,2250.9 M184.6,2250.9 M185.8,2250.9 M187.3,2250.9 M188.8,2250.9 M190.6,2250.9 M192.0,2250.9 L193.8,2249.0 L195.2,2247.4 L196.5,2250.9 L198.3,2246.6 L199.9,2249.3 L202.0,2250.9 L203.7,2248.6 L205.3,2250.9 M206.9,2250.9 M208.8,2250.9 M210.8,2250.9 M212.2,2250.9 M213.8,2250.9 L214.9,2247.8 L216.0,2250.9 M288.0,2250.9 M288.0,2250.9 L289.6,2248.7 L291.3,2250.9 L293.3,2249.5 L295.3,2245.5 L296.5,2248.7 L297.6,2250.9 L299.7,2249.2 L300.9,2250.9 L302.2,2249.1 L303.5,2245.5 L304.8,2248.7 L306.7,2245.1 L308.5,2249.3 L310.3,2245.7 L311.9,2248.8 L313.2,2250.9 L314.5,2249.5 L316.1,2250.9 L317.7,2248.8 L319.6,2250.9 L321.5,2248.8 L323.3,2247.2 L324.8,2249.5 L326.5,2248.6 L328.2,2248.3 L329.7,2246.6 L331.3,2249.5 L333.1,2247.3 L335.0,2250.9 L336.6,2245.6 L337.9,2249.0 L339.6,2247.5 L341.5,2248.9 L342.9,2244.8 L344.6,2249.1 L346.0,2250.9 M361.0,2250.9 L363.2,2246.0 L372.9,2237.0 L372.9,2212.0 L374.9,2211.0 L374.9,2167.0 L378.0,2166.0 L378.0,2093.0 L381.0,2090.0 L381.0,2055.0 L384.7,2042.3 L385.3,2055.0 L384.6,2200.0 L387.0,2202.0 L387.0,2232.0 L388.5,2235.0 L386.5,2239.4 L392.8,2243.3 L397.0,2247.0 L400.0,2246.0 L403.4,2243.0 L407.0,2241.5 L410.0,2243.0 L413.0,2245.0 L416.0,2250.9 M422.0,2250.9 L423.6,2247.0 L425.5,2242.0 L428.2,2238.0 L428.5,2222.0 L429.3,2213.6 L430.3,2222.0 L430.8,2240.0 L432.5,2243.0 L434.5,2247.0 L437.0,2250.9 M493.0,2250.9 L493.9,2249.5 L499.8,2235.4 L500.2,2202.4 L503.8,2190.3 L505.5,2196.0 L506.0,2220.0 L510.0,2224.7 L513.6,2238.1 L520.8,2243.5 L526.0,2243.0 L531.9,2241.7 L537.0,2243.5 L543.0,2246.0 L543.0,2245.9 L544.7,2249.5 L546.5,2246.1 L547.7,2249.6 L549.0,2245.8 L550.8,2248.1 L552.5,2245.7 L554.3,2248.5 L555.6,2246.5 L557.4,2249.3 L558.6,2244.4 L560.3,2248.2 L562.2,2247.5 L563.6,2249.1 L565.2,2244.3 L566.3,2249.5 L567.6,2246.0 L569.6,2249.6 L571.1,2244.3 L573.1,2248.9 L574.3,2247.7 L575.6,2249.6 L577.4,2244.1 L578.6,2249.4 L579.7,2247.6 L581.5,2249.5 L583.4,2244.7 L585.2,2248.5 L587.0,2244.3 L588.4,2248.4 L589.5,2245.6 L591.4,2249.1 L593.3,2244.6 L594.8,2249.0 L596.5,2245.5 L597.8,2249.0 L599.5,2246.7 L601.0,2248.0 L602.9,2247.3 L604.1,2248.4 L606.0,2245.8 L608.0,2248.6 L609.4,2244.5 L610.9,2248.6 L612.9,2247.4 L614.0,2248.9 L615.7,2244.5 L616.9,2248.2 L618.8,2247.4 L620.8,2248.4 L622.8,2248.3 L624.4,2249.2 L626.2,2247.6 L627.9,2248.8 L629.3,2245.2 L631.1,2249.4 L633.0,2247.6 L634.7,2248.1 L636.3,2245.9 L637.6,2249.3 L639.4,2246.0 L640.9,2249.3 L642.1,2246.9 L643.3,2248.3 L644.6,2247.1 L646.2,2249.5 L648.3,2246.4 L649.9,2248.3 L651.5,2245.1 L653.4,2249.2 L654.5,2247.8 L655.7,2248.7 L657.7,2244.2 L659.7,2248.6 L661.2,2244.2 L662.6,2248.5 L664.6,2246.8 L666.1,2248.0 L668.2,2248.5 L669.6,2248.1 L671.6,2248.5 L673.4,2248.5 L675.8,2247.5 L678.5,2242.0 L680.5,2236.0 L680.5,2166.0 L682.5,2155.0 L684.7,2149.5 L686.2,2160.0 L687.7,2206.0 L689.0,2236.0 L690.5,2247.0 L690.5,2248.1 L692.3,2248.6 L693.8,2245.4 L695.0,2249.2 L696.2,2248.0 L697.6,2248.6 L698.7,2247.9 L699.8,2249.2 L701.9,2244.9 L703.1,2249.4 L705.1,2246.0 L706.7,2248.3 L708.3,2248.1 L709.6,2248.5 L711.2,2244.9 L712.6,2249.3 L714.0,2247.3 L715.3,2249.1 L717.3,2244.5 L718.4,2248.6 L719.8,2247.5 L721.1,2249.0 L723.2,2244.7 L724.4,2248.2 L725.6,2247.4 L727.7,2248.4 L729.1,2248.7 L731.0,2249.3 L732.6,2247.8 L734.2,2249.3 L736.1,2247.9 L737.3,2248.7 L739.0,2244.0 L742.5,2203.0 L745.0,2153.0 L748.5,2147.0 L749.7,2055.0 L752.0,2028.0 L753.5,2040.0 L755.6,2084.0 L756.0,2183.0 L758.0,2186.0 L759.0,2230.0 L762.0,2240.0 L766.0,2247.5 L766.0,2247.6 L767.7,2248.0 L769.4,2248.3 L771.2,2248.2 L772.4,2246.9 L774.3,2248.6 L775.4,2246.1 L777.4,2249.2 L779.3,2247.8 L780.8,2249.6 L782.4,2245.9 L783.7,2248.0 L785.6,2244.9 L787.1,2249.5 L789.0,2246.0 L790.7,2248.6 L791.8,2247.5 L793.1,2249.1 L795.0,2248.2 L796.8,2249.5 L798.5,2245.9 L800.3,2247.9 L802.1,2248.0 L803.7,2249.1 L804.9,2248.0 L806.6,2249.3 L808.3,2247.8 L810.2,2248.8 L811.7,2245.9 L813.2,2248.1 L814.7,2246.9 L816.2,2248.1 L818.2,2244.1 L819.4,2247.8 L821.4,2246.4 L823.1,2248.6 L824.3,2246.0 L825.4,2247.7 L827.3,2245.3 L829.2,2247.9 L830.4,2247.3 L832.1,2248.6 L834.1,2247.3 L835.8,2247.8 L837.1,2245.2 L838.4,2247.8 L840.0,2246.2 L841.6,2249.3 L842.9,2246.5 L844.3,2249.4 L845.9,2245.4 L847.6,2249.2 L849.4,2245.7 L851.1,2249.0 L852.4,2245.9 L853.9,2249.6 L855.4,2247.4 L857.0,2249.0 L859.1,2244.5 L860.4,2247.9 L861.9,2246.6 L863.5,2249.4 L864.8,2244.7 L866.1,2248.9 L867.8,2244.1 L869.8,2248.2 L871.6,2246.1 L873.5,2247.9 L874.7,2248.7 L876.6,2248.6 L878.6,2246.4 L880.5,2248.4 L882.0,2246.2 L883.8,2248.8 L885.4,2247.0 L887.3,2248.6 L888.8,2247.1 L890.1,2248.5 L891.3,2247.0 L893.2,2247.8 L894.6,2243.8 L895.7,2248.5 L897.3,2244.5 L898.9,2248.6 L900.5,2246.6 L902.0,2248.9 L904.0,2245.9 L905.2,2248.8 L906.9,2243.9 L909.0,2248.7 L910.7,2246.8 L912.3,2249.3 L913.7,2244.2 L915.3,2247.9 L917.1,2243.4 L919.1,2249.3 L920.5,2246.0 L921.8,2248.4 L923.5,2243.3 L925.2,2248.8 L927.1,2245.0 L928.7,2247.0 L942.5,2247.0 L942.5,2244.4 L944.2,2249.2 L945.8,2247.3 L947.5,2247.8 L949.2,2248.1 L950.5,2249.4 L951.7,2246.0 L953.6,2248.1 L954.8,2244.7 L956.2,2248.9 L957.5,2248.2 L959.5,2249.0 L961.0,2248.4 L963.0,2247.9 L964.5,2247.4 L965.7,2248.0 L967.1,2244.5 L968.5,2247.9 L970.1,2247.5 L971.6,2249.2 L973.0,2246.2 L974.9,2249.3 L976.4,2243.7 L977.8,2249.4 L979.4,2246.6 L980.6,2248.1 L982.1,2247.7 L983.5,2249.5 L985.2,2247.9 L987.0,2249.1 L988.9,2246.4 L990.8,2249.3 L992.3,2246.8 L994.3,2247.9 L996.0,2246.4 L997.2,2249.1 L999.2,2246.8 L1000.5,2249.2 L1002.5,2246.1 L1004.1,2248.2 L1005.6,2245.8 L1007.0,2249.4 L1008.3,2247.1 L1010.1,2248.6 L1011.6,2247.2 L1012.7,2249.2 L1014.0,2247.3 L1015.5,2248.2 L1017.5,2248.0 L1018.8,2248.4 L1020.6,2246.6 L1022.4,2249.1 L1024.3,2245.5 L1025.6,2247.9 L1027.4,2248.5 L1028.6,2249.2 L1030.0,2248.5 L1031.4,2249.3 L1033.3,2245.0 L1034.7,2248.4 L1036.1,2244.4 L1038.0,2249.5 L1039.9,2248.5 L1041.3,2248.2 L1042.6,2244.9 L1043.8,2248.9 L1045.7,2247.3 L1046.9,2248.8 L1048.9,2244.9 L1050.8,2248.8 L1052.0,2246.5 L1053.6,2249.4 L1055.4,2245.1 L1057.3,2248.6 L1059.4,2245.9 L1060.7,2248.9 L1062.3,2247.1 L1063.0,2250.9 M1134.0,2250.9 L1134.0,2245.8 L1135.3,2248.8 L1136.9,2247.2 L1138.3,2249.4 L1140.0,2245.2 L1141.6,2249.3 L1143.4,2246.7 L1145.2,2249.4 L1146.6,2247.8 L1147.8,2249.3 L1149.6,2248.2 L1151.0,2249.0 L1152.3,2250.9 L1153.4,2248.4 L1154.6,2244.5 L1156.3,2250.9 L1157.9,2247.9 L1159.5,2250.9 L1161.5,2246.0 L1163.6,2249.2 L1164.9,2250.9 L1166.1,2248.3 L1167.5,2245.9 L1169.4,2249.3 L1171.3,2245.5 L1172.7,2248.3 L1174.1,2246.3 L1175.6,2249.2 L1176.8,2246.0 L1178.7,2248.2 L1180.7,2246.5 L1182.0,2248.7 L1183.2,2248.0 L1184.7,2249.4 L1185.9,2247.9 L1187.7,2250.9 L1189.6,2245.3 L1191.1,2248.6 L1192.7,2247.2 L1194.3,2248.3 L1196.3,2247.4 L1197.8,2249.1 L1199.1,2250.9 L1200.5,2247.5 L1204.6,2245.0 L1212.3,2235.0 L1212.3,2193.0 L1214.7,2192.0 L1214.7,2090.0 L1217.7,2089.0 L1217.7,1906.0 L1220.0,1904.0 L1220.7,1879.0 L1221.4,1904.0 L1221.6,1936.0 L1224.1,1938.0 L1224.1,2124.0 L1226.8,2126.0 L1226.8,2229.0 L1230.4,2237.0 L1233.6,2245.0 L1236.6,2244.0 L1239.0,2242.0 L1242.0,2241.5 L1246.0,2244.0 L1249.0,2242.0 L1252.0,2245.0 L1254.5,2248.0 L1257.0,2250.9 M1312.0,2250.9" fill="none" stroke="#a984ae" stroke-width="2.2" stroke-linejoin="round"/><path d="M676.5,629.9 L678.1,628.0 L678.1,539.6 L682.2,539.6 L682.2,628.0 L683.8,629.9" fill="none" stroke="#e1cce1" stroke-width="2.2" stroke-linejoin="round"/><path d="M928.7,2247.0 L929.5,2211.0 L934.0,2211.0 L935.3,2114.0 L937.2,2111.0 L939.2,2114.0 L939.2,2242.0 L942.5,2247.0" fill="none" stroke="#e1cce1" stroke-width="2.2" stroke-linejoin="round"/><g stroke="#9e5ba4" stroke-width="3.4" stroke-linecap="round" fill="none"><path d="M390.6,574 V393.5"/><path d="M752,574 V293.5"/></g></g><g><g stroke="#b4b4b4" stroke-width="5.0" stroke-linecap="round" fill="none"><path d="M133.4,60.3 V659.8" /><path d="M130.4,651.1 H1315.2" /><path d="M124.4,75.2 H133.4" /><path d="M124.4,197.7 H133.4" /><path d="M124.4,329.5 H133.4" /><path d="M124.4,479.6 H133.4" /><path d="M124.4,629.8 H133.4" /><path d="M326.2,651.1 V659.8" /><path d="M515.8,651.1 V659.8" /><path d="M709.2,651.1 V659.8" /><path d="M902.0,651.1 V659.8" /><path d="M1095.1,651.1 V659.8" /><path d="M1288.3,651.1 V659.8" /></g><g stroke="#000" stroke-width="3.1" stroke-linecap="round" fill="none"><path d="M133.4,60.3 V659.8" /><path d="M130.4,651.1 H1315.2" /><path d="M124.4,75.2 H133.4" /><path d="M124.4,197.7 H133.4" /><path d="M124.4,329.5 H133.4" /><path d="M124.4,479.6 H133.4" /><path d="M124.4,629.8 H133.4" /><path d="M326.2,651.1 V659.8" /><path d="M515.8,651.1 V659.8" /><path d="M709.2,651.1 V659.8" /><path d="M902.0,651.1 V659.8" /><path d="M1095.1,651.1 V659.8" /><path d="M1288.3,651.1 V659.8" /></g><g stroke="#b4b4b4" stroke-width="5.0" stroke-linecap="round" fill="none"><path d="M133.4,838.6 V1438.1" /><path d="M130.4,1429.4 H1315.2" /><path d="M124.4,853.5 H133.4" /><path d="M124.4,976.0 H133.4" /><path d="M124.4,1107.8 H133.4" /><path d="M124.4,1257.9 H133.4" /><path d="M124.4,1408.1 H133.4" /><path d="M326.2,1429.4 V1438.1" /><path d="M515.8,1429.4 V1438.1" /><path d="M709.2,1429.4 V1438.1" /><path d="M902.0,1429.4 V1438.1" /><path d="M1095.1,1429.4 V1438.1" /><path d="M1288.3,1429.4 V1438.1" /></g><g stroke="#000" stroke-width="3.1" stroke-linecap="round" fill="none"><path d="M133.4,838.6 V1438.1" /><path d="M130.4,1429.4 H1315.2" /><path d="M124.4,853.5 H133.4" /><path d="M124.4,976.0 H133.4" /><path d="M124.4,1107.8 H133.4" /><path d="M124.4,1257.9 H133.4" /><path d="M124.4,1408.1 H133.4" /><path d="M326.2,1429.4 V1438.1" /><path d="M515.8,1429.4 V1438.1" /><path d="M709.2,1429.4 V1438.1" /><path d="M902.0,1429.4 V1438.1" /><path d="M1095.1,1429.4 V1438.1" /><path d="M1288.3,1429.4 V1438.1" /></g><g stroke="#b4b4b4" stroke-width="5.0" stroke-linecap="round" fill="none"><path d="M133.4,1660.1 V2259.6" /><path d="M130.4,2250.9 H1315.2" /><path d="M124.4,1675.0 H133.4" /><path d="M124.4,1797.5 H133.4" /><path d="M124.4,1929.3 H133.4" /><path d="M124.4,2079.4 H133.4" /><path d="M124.4,2229.6 H133.4" /><path d="M326.2,2250.9 V2259.6" /><path d="M515.8,2250.9 V2259.6" /><path d="M709.2,2250.9 V2259.6" /><path d="M902.0,2250.9 V2259.6" /><path d="M1095.1,2250.9 V2259.6" /><path d="M1288.3,2250.9 V2259.6" /></g><g stroke="#000" stroke-width="3.1" stroke-linecap="round" fill="none"><path d="M133.4,1660.1 V2259.6" /><path d="M130.4,2250.9 H1315.2" /><path d="M124.4,1675.0 H133.4" /><path d="M124.4,1797.5 H133.4" /><path d="M124.4,1929.3 H133.4" /><path d="M124.4,2079.4 H133.4" /><path d="M124.4,2229.6 H133.4" /><path d="M326.2,2250.9 V2259.6" /><path d="M515.8,2250.9 V2259.6" /><path d="M709.2,2250.9 V2259.6" /><path d="M902.0,2250.9 V2259.6" /><path d="M1095.1,2250.9 V2259.6" /><path d="M1288.3,2250.9 V2259.6" /></g><g font-family="Liberation Sans, Arial, sans-serif" fill="#000" stroke="#808080" stroke-width="3.0" paint-order="stroke" stroke-linejoin="round" filter="url(#txt)"><text transform="translate(134.10,45.30) scale(0.3400,0.3350)" font-size="100" text-anchor="start" >x<tspan font-family="NanumGothic, Liberation Sans, sans-serif" font-size="93">1</tspan>0</text><text transform="translate(191.50,27.10) scale(0.2650,0.2600)" font-size="100" text-anchor="start" fill="#333">6</text><text transform="translate(118.00,84.95) scale(0.3400,0.3350)" font-size="100" text-anchor="end" ><tspan font-family="NanumGothic, Liberation Sans, sans-serif" font-size="93">1</tspan>2</text><text transform="translate(118.00,207.80) scale(0.3400,0.3350)" font-size="100" text-anchor="end" >9</text><text transform="translate(118.00,342.50) scale(0.3400,0.3350)" font-size="100" text-anchor="end" >6</text><text transform="translate(118.00,489.50) scale(0.3400,0.3350)" font-size="100" text-anchor="end" >3</text><text transform="translate(114.60,639.80) scale(0.2700,0.3370)" font-size="100" text-anchor="end" >0</text><text transform="translate(132.00,694.90) scale(0.2900,0.3350)" font-size="100" text-anchor="middle" >0</text><text transform="translate(328.20,698.00) scale(0.3350,0.3410)" font-size="100" text-anchor="middle" >5</text><text transform="translate(514.85,698.00) scale(0.3350,0.3410)" font-size="100" text-anchor="middle" ><tspan font-family="NanumGothic, Liberation Sans, sans-serif" font-size="93">1</tspan>0</text><text transform="translate(711.50,698.00) scale(0.3350,0.3410)" font-size="100" text-anchor="middle" ><tspan font-family="NanumGothic, Liberation Sans, sans-serif" font-size="93">1</tspan>5</text><text transform="translate(903.90,698.00) scale(0.3350,0.3410)" font-size="100" text-anchor="middle" >20</text><text transform="translate(1096.15,698.00) scale(0.3350,0.3410)" font-size="100" text-anchor="middle" >25</text><text transform="translate(1286.75,698.00) scale(0.3350,0.3410)" font-size="100" text-anchor="middle" >30</text><text transform="translate(685.50,747.60) scale(0.3180,0.3500)" font-size="100" text-anchor="start" >Time (min)</text><text transform="translate(60.7,401.7) rotate(-90) scale(0.342,0.336)" font-size="100">Intensity (cps)</text><text transform="translate(134.10,823.60) scale(0.3400,0.3350)" font-size="100" text-anchor="start" >x<tspan font-family="NanumGothic, Liberation Sans, sans-serif" font-size="93">1</tspan>0</text><text transform="translate(191.50,805.40) scale(0.2650,0.2600)" font-size="100" text-anchor="start" fill="#333">6</text><text transform="translate(118.00,863.25) scale(0.3400,0.3350)" font-size="100" text-anchor="end" ><tspan font-family="NanumGothic, Liberation Sans, sans-serif" font-size="93">1</tspan>2</text><text transform="translate(118.00,986.10) scale(0.3400,0.3350)" font-size="100" text-anchor="end" >9</text><text transform="translate(118.00,1120.80) scale(0.3400,0.3350)" font-size="100" text-anchor="end" >6</text><text transform="translate(118.00,1267.80) scale(0.3400,0.3350)" font-size="100" text-anchor="end" >3</text><text transform="translate(114.60,1418.10) scale(0.2700,0.3370)" font-size="100" text-anchor="end" >0</text><text transform="translate(132.00,1473.20) scale(0.2900,0.3350)" font-size="100" text-anchor="middle" >0</text><text transform="translate(328.20,1476.30) scale(0.3350,0.3410)" font-size="100" text-anchor="middle" >5</text><text transform="translate(514.85,1476.30) scale(0.3350,0.3410)" font-size="100" text-anchor="middle" ><tspan font-family="NanumGothic, Liberation Sans, sans-serif" font-size="93">1</tspan>0</text><text transform="translate(711.50,1476.30) scale(0.3350,0.3410)" font-size="100" text-anchor="middle" ><tspan font-family="NanumGothic, Liberation Sans, sans-serif" font-size="93">1</tspan>5</text><text transform="translate(903.90,1476.30) scale(0.3350,0.3410)" font-size="100" text-anchor="middle" >20</text><text transform="translate(1096.15,1476.30) scale(0.3350,0.3410)" font-size="100" text-anchor="middle" >25</text><text transform="translate(1286.75,1476.30) scale(0.3350,0.3410)" font-size="100" text-anchor="middle" >30</text><text transform="translate(685.50,1525.90) scale(0.3180,0.3500)" font-size="100" text-anchor="start" >Time (min)</text><text transform="translate(60.7,1180.0) rotate(-90) scale(0.342,0.336)" font-size="100">Intensity (cps)</text><text transform="translate(134.10,1645.10) scale(0.3400,0.3350)" font-size="100" text-anchor="start" >x<tspan font-family="NanumGothic, Liberation Sans, sans-serif" font-size="93">1</tspan>0</text><text transform="translate(191.50,1626.90) scale(0.2650,0.2600)" font-size="100" text-anchor="start" fill="#333">6</text><text transform="translate(118.00,1684.75) scale(0.3400,0.3350)" font-size="100" text-anchor="end" ><tspan font-family="NanumGothic, Liberation Sans, sans-serif" font-size="93">1</tspan>2</text><text transform="translate(118.00,1807.60) scale(0.3400,0.3350)" font-size="100" text-anchor="end" >9</text><text transform="translate(118.00,1942.30) scale(0.3400,0.3350)" font-size="100" text-anchor="end" >6</text><text transform="translate(118.00,2089.30) scale(0.3400,0.3350)" font-size="100" text-anchor="end" >3</text><text transform="translate(114.60,2239.60) scale(0.2700,0.3370)" font-size="100" text-anchor="end" >0</text><text transform="translate(132.00,2294.70) scale(0.2900,0.3350)" font-size="100" text-anchor="middle" >0</text><text transform="translate(328.20,2297.80) scale(0.3350,0.3410)" font-size="100" text-anchor="middle" >5</text><text transform="translate(514.85,2297.80) scale(0.3350,0.3410)" font-size="100" text-anchor="middle" ><tspan font-family="NanumGothic, Liberation Sans, sans-serif" font-size="93">1</tspan>0</text><text transform="translate(711.50,2297.80) scale(0.3350,0.3410)" font-size="100" text-anchor="middle" ><tspan font-family="NanumGothic, Liberation Sans, sans-serif" font-size="93">1</tspan>5</text><text transform="translate(903.90,2297.80) scale(0.3350,0.3410)" font-size="100" text-anchor="middle" >20</text><text transform="translate(1096.15,2297.80) scale(0.3350,0.3410)" font-size="100" text-anchor="middle" >25</text><text transform="translate(1286.75,2297.80) scale(0.3350,0.3410)" font-size="100" text-anchor="middle" >30</text><text transform="translate(685.50,2347.40) scale(0.3180,0.3500)" font-size="100" text-anchor="start" >Time (min)</text><text transform="translate(60.7,2001.5) rotate(-90) scale(0.342,0.336)" font-size="100">Intensity (cps)</text><text transform="translate(1265.90,596.80) scale(0.4400,0.4550)" font-size="100" text-anchor="start" >(A)</text><text transform="translate(1253.20,1397.10) scale(0.4700,0.4550)" font-size="100" text-anchor="start" >(B)</text><text transform="translate(1256.60,2209.50) scale(0.4690,0.4550)" font-size="100" text-anchor="start" >(C)</text></g></g></svg>
</body></html>
